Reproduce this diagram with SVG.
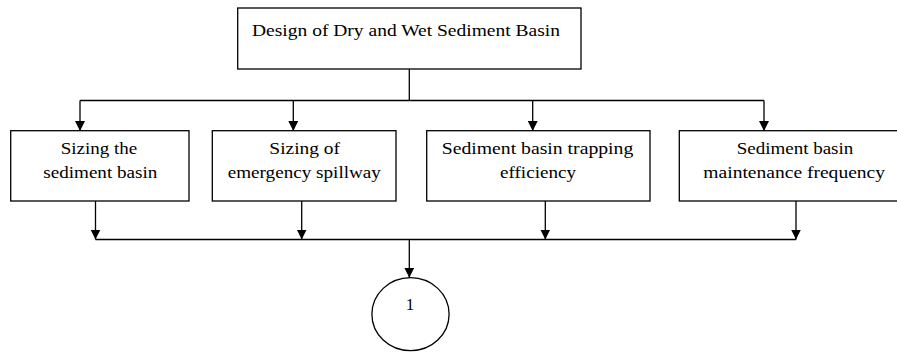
<svg xmlns="http://www.w3.org/2000/svg" width="897" height="352" viewBox="0 0 897 352">
<defs>
<marker id="arr" markerWidth="10" markerHeight="10" refX="10" refY="5" orient="auto" markerUnits="userSpaceOnUse" viewBox="0 0 10 10">
<path d="M0,0 L10,5 L0,10 Z" fill="#000"/>
</marker>
</defs>
<style>
.box{fill:#fff;stroke:#000;stroke-width:1.3}
.t{font-size:17px;fill:#000;text-anchor:middle}
.c{fill:none;stroke:#000;stroke-width:1.3}
</style>
<rect width="897" height="352" fill="#fff"/>
<g id="connectors">
<polyline class="c" points="409.3,69 409.3,100.5"/>
<polyline class="c" points="80,100.5 764,100.5"/>
<line class="c" x1="80" y1="100.5" x2="80" y2="131" marker-end="url(#arr)"/>
<line class="c" x1="293.3" y1="100.5" x2="293.3" y2="131" marker-end="url(#arr)"/>
<line class="c" x1="532.7" y1="100.5" x2="532.7" y2="131" marker-end="url(#arr)"/>
<line class="c" x1="764" y1="100.5" x2="764" y2="131" marker-end="url(#arr)"/>
<line class="c" x1="95.5" y1="201" x2="95.5" y2="239.5" marker-end="url(#arr)"/>
<line class="c" x1="301.7" y1="201" x2="301.7" y2="239.5" marker-end="url(#arr)"/>
<line class="c" x1="545.3" y1="201" x2="545.3" y2="239.5" marker-end="url(#arr)"/>
<line class="c" x1="796" y1="201" x2="796" y2="239.5" marker-end="url(#arr)"/>
<polyline class="c" points="95.5,239.5 796,239.5"/>
<line class="c" x1="409.3" y1="239.5" x2="409.3" y2="277.7" marker-end="url(#arr)"/>
</g>
<g font-family="Liberation Serif, Times New Roman, serif">
<g id="top">
<rect class="box" x="237.7" y="8" width="343.3" height="61"/>
<text class="t" x="406" y="36" textLength="308" lengthAdjust="spacingAndGlyphs">Design of Dry and Wet Sediment Basin</text>
</g>
<g id="n1">
<rect class="box" x="10.7" y="130.7" width="178.3" height="70.3"/>
<text class="t" x="99" y="154.3" textLength="76.6" lengthAdjust="spacingAndGlyphs">Sizing the</text>
<text class="t" x="100.3" y="178.3" textLength="114" lengthAdjust="spacingAndGlyphs">sediment basin</text>
</g>
<g id="n2">
<rect class="box" x="212.3" y="130.7" width="183.7" height="70.3"/>
<text class="t" x="304.7" y="154.3" textLength="70.7" lengthAdjust="spacingAndGlyphs">Sizing of</text>
<text class="t" x="304.3" y="178.3" textLength="153.3" lengthAdjust="spacingAndGlyphs">emergency spillway</text>
</g>
<g id="n3">
<rect class="box" x="426.7" y="130.7" width="223.3" height="70.3"/>
<text class="t" x="537.5" y="154.3" textLength="191.6" lengthAdjust="spacingAndGlyphs">Sediment basin trapping</text>
<text class="t" x="538" y="178.3" textLength="76" lengthAdjust="spacingAndGlyphs">efficiency</text>
</g>
<g id="n4">
<rect class="box" x="679.3" y="130.7" width="230" height="70.3"/>
<text class="t" x="795" y="154.3" textLength="116.6" lengthAdjust="spacingAndGlyphs">Sediment basin</text>
<text class="t" x="794.2" y="178.3" textLength="181.7" lengthAdjust="spacingAndGlyphs">maintenance frequency</text>
</g>
<g id="n5">
<ellipse class="box" cx="410.5" cy="314.2" rx="38.6" ry="36.5"/>
<text class="t" x="410" y="310">1</text>
</g>
</g>
</svg>
